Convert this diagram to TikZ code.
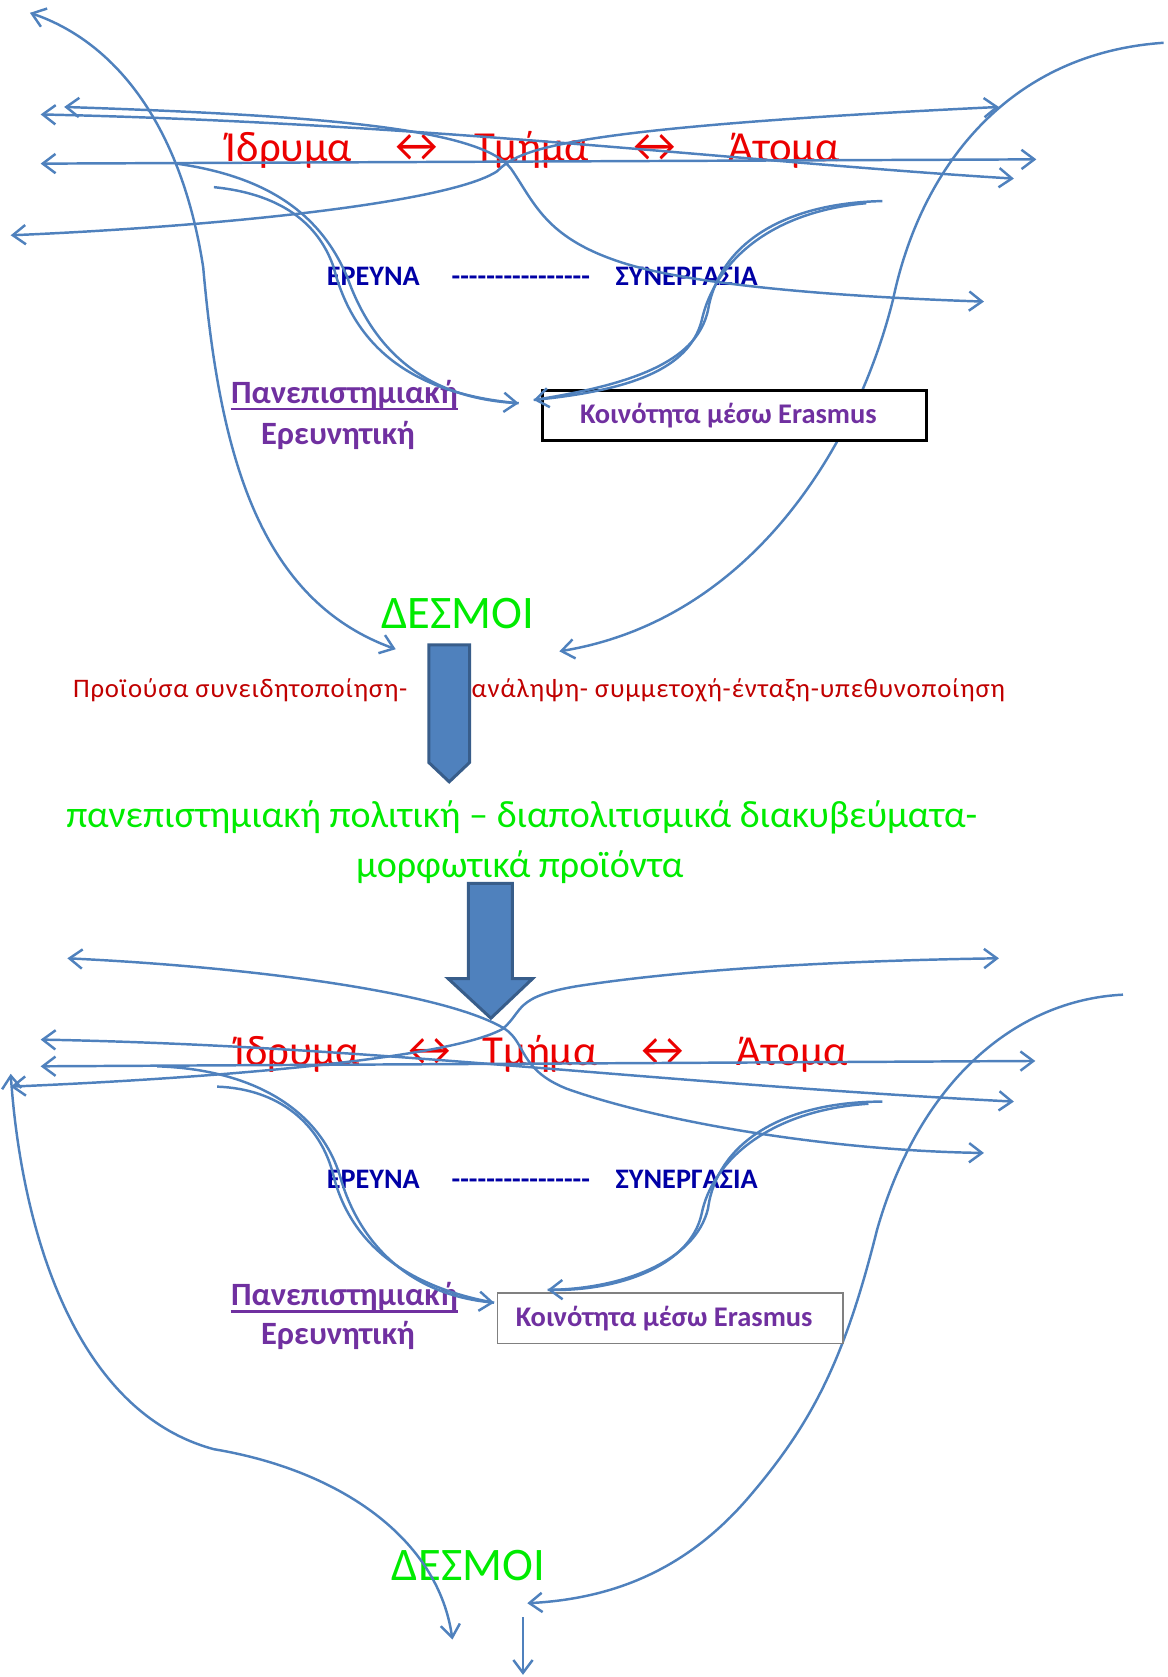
\documentclass[tikz,border=0pt]{standalone}
\usepackage{fontspec}
\setmainfont{Carlito}
\newfontfamily\widefont{Carlito}[LetterSpace=3.1]
\usepackage{xcolor}
\usetikzlibrary{arrows.meta}
\definecolor{linkblue}{RGB}{79,129,189}
\definecolor{linkdark}{RGB}{56,93,138}
\definecolor{levelred}{RGB}{235,0,0}
\definecolor{themeblue}{RGB}{0,0,165}
\definecolor{unipurple}{RGB}{112,48,160}
\definecolor{bondgreen}{RGB}{0,235,0}
\definecolor{procred}{RGB}{192,0,0}
\newcommand{\hy}{\mbox{-}}

\begin{document}
\begin{tikzpicture}[x=0.5pt,y=-0.5pt,
    >={Straight Barb[length=6pt,width=9pt]},
    flow/.style={draw=linkblue, line width=1.15pt},
    level/.style={text=levelred, font=\fontsize{20}{24}\selectfont, anchor=base},
    twoway/.style={text=levelred, font=\fontsize{22}{26}\selectfont, anchor=base},
    theme/.style={text=themeblue, font=\bfseries\fontsize{13.2}{16}\selectfont, anchor=base},
    uni/.style={text=unipurple, font=\bfseries\fontsize{15.2}{18}\selectfont, anchor=base, inner sep=0pt},
    uline/.style={draw=unipurple, line width=1.1pt},
    bond/.style={text=bondgreen, font=\fontsize{21.8}{26}\selectfont, anchor=base},
    proc/.style={text=procred, font=\widefont\fontsize{12.5}{15}\selectfont, anchor=base},
    policy/.style={text=bondgreen, font=\fontsize{17.8}{21}\selectfont, anchor=base},
    commbox/.style={draw, fill=white},
    commtext/.style={text=unipurple, font=\bfseries\fontsize{13.3}{16}\selectfont},
    block/.style={draw=linkdark, fill=linkblue, line width=1.4pt, line join=miter}]
  \useasboundingbox (0,0) rectangle (1092,1568);

  % upper level
  \node[level] (idr1) at (270,151) {Ίδρυμα};
  \node[twoway] (lr1a) at (390,151) {↔};
  \node[level] (tmi1) at (497,151) {Τμήμα};
  \node[twoway] (lr1b) at (612,151) {↔};
  \node[level] (ato1) at (733,151) {Άτομα};
  \node[theme] (ere1) at (349,267) {ΕΡΕΥΝΑ};
  \node[theme] (dash1) at (487,267) {\hy\hy\hy\hy\hy\hy\hy\hy\hy\hy\hy\hy\hy\hy\hy\hy};
  \node[theme] (syn1) at (642,267) {ΣΥΝΕΡΓΑΣΙΑ};
  \node[uni] (uni1) at (322,377) {Πανεπιστημιακή};
  \draw[uline] ([yshift=-2.6pt]uni1.base west) -- ([yshift=-2.6pt]uni1.base east);
  \node[uni] (res1) at (316,416) {Ερευνητική};
  \node[bond] (bond1) at (428,588) {ΔΕΣΜΟΙ};

  \coordinate (tl1) at (28,12);
  \coordinate (tr1) at (1088,40);
  \coordinate (bl1) at (370,607);
  \coordinate (br1) at (523,609);
  \coordinate (w1) at (60,100);
  \coordinate (w2) at (38,107);
  \coordinate (w3) at (38,153);
  \coordinate (w4) at (10,220);
  \coordinate (e1) at (934,100);
  \coordinate (e2) at (969,149);
  \coordinate (e3) at (948,167);
  \coordinate (e4) at (920,282);
  \coordinate (li1) at (165,153);
  \coordinate (li2) at (200,175);
  \coordinate (inL1) at (485,377);
  \coordinate (ri1) at (825,188);
  \coordinate (ri2) at (810,190);
  \coordinate (inR1) at (499,374);

  \draw[flow, <->] (tl1) .. controls (110,40) and (170,120) .. (190,250)
    .. controls (205,420) and (240,560) .. (bl1);
  \draw[flow, ->] (tr1) .. controls (940,50) and (860,160) .. (835,280)
    .. controls (800,420) and (700,580) .. (br1);
  \node[commbox, line width=1.3pt, minimum width=179.5pt, minimum height=23.5pt] (box1) at (686.5,388.5) {};
  \node[commtext] (eras1) at (681,389) {Κοινότητα μέσω Erasmus};
  \draw[flow, <->] (w1) .. controls (300,108) and (450,120) .. (478,158)
    .. controls (500,190) and (510,222) .. (580,245)
    .. controls (650,268) and (800,278) .. (e4);
  \draw[flow, <->] (w2) .. controls (400,115) and (700,152) .. (e3);
  \draw[flow, <->] (w3) -- (e2);
  \draw[flow, <->] (w4) .. controls (200,212) and (420,190) .. (465,160)
    .. controls (485,140) and (520,120) .. (e1);
  \draw[flow, ->] (li1) .. controls (250,165) and (300,200) .. (325,260)
    .. controls (350,330) and (400,372) .. (inL1);
  \draw[flow] (li2) .. controls (270,182) and (300,215) .. (312,250)
    .. controls (330,320) and (380,368) .. (inL1);
  \draw[flow, ->] (ri1) .. controls (730,190) and (672,230) .. (662,290)
    .. controls (652,335) and (600,358) .. (inR1);
  \draw[flow] (ri2) .. controls (720,198) and (668,245) .. (656,300)
    .. controls (644,345) and (590,365) .. (inR1);

  % transition
  \draw[block] (401,603) -- (439,603) -- (439,713) -- (420,731) -- (401,713) -- cycle;
  \node[proc, anchor=base east] (proc1a) at (388,652) {Προϊούσα συνειδητοποίηση-};
  \node[proc, anchor=base west] (proc1b) at (434,652) {ανάληψη- συμμετοχή-ένταξη-υπεθυνοποίηση};
  \node[policy] (pol1) at (488,774) {πανεπιστημιακή πολιτική – διαπολιτισμικά διακυβεύματα-};
  \node[policy] (pol2) at (486,820) {μορφωτικά προϊόντα};

  % lower level
  \node[level] (idr2) at (278,996) {Ίδρυμα};
  \node[twoway] (lr2a) at (402,996) {↔};
  \node[level] (tmi2) at (505,996) {Τμήμα};
  \node[twoway] (lr2b) at (620,996) {↔};
  \node[level] (ato2) at (741,996) {Άτομα};
  \node[theme] (ere2) at (349,1111) {ΕΡΕΥΝΑ};
  \node[theme] (dash2) at (487,1111) {\hy\hy\hy\hy\hy\hy\hy\hy\hy\hy\hy\hy\hy\hy\hy\hy};
  \node[theme] (syn2) at (642,1111) {ΣΥΝΕΡΓΑΣΙΑ};
  \node[uni] (uni2) at (322,1221) {Πανεπιστημιακή};
  \draw[uline] ([yshift=-2.6pt]uni2.base west) -- ([yshift=-2.6pt]uni2.base east);
  \node[uni] (res2) at (316,1257) {Ερευνητική};
  \node[bond] (bond2) at (438,1478) {ΔΕΣΜΟΙ};

  \coordinate (tl2) at (10,1004);
  \coordinate (tr2) at (1050,930);
  \coordinate (bl2) at (423,1533);
  \coordinate (br2) at (493,1499);
  \coordinate (v1) at (63,896);
  \coordinate (v2) at (38,972);
  \coordinate (v3) at (38,997);
  \coordinate (v4) at (10,1016);
  \coordinate (f1) at (934,896);
  \coordinate (f2) at (968,992);
  \coordinate (f3) at (948,1030);
  \coordinate (f4) at (920,1078);
  \coordinate (lj1) at (147,997);
  \coordinate (lj2) at (203,1016);
  \coordinate (inL2) at (462,1218);
  \coordinate (rj1) at (825,1030);
  \coordinate (rj2) at (812,1032);
  \coordinate (inR2) at (512,1206);
  \coordinate (out1) at (489,1512);
  \coordinate (out2) at (489,1566);

  \draw[flow, <->] (tl2) .. controls (20,1150) and (70,1320) .. (200,1355)
    .. controls (320,1375) and (410,1440) .. (bl2);
  \draw[flow, ->] (tr2) .. controls (950,935) and (860,1010) .. (820,1150)
    .. controls (790,1270) and (760,1330) .. (700,1400)
    .. controls (640,1470) and (570,1495) .. (br2);
  \node[commbox, draw=gray, line width=0.7pt, minimum width=161.5pt, minimum height=23.5pt] (box2) at (626.5,1232.5) {};
  \node[commtext] (eras2) at (621,1233) {Κοινότητα μέσω Erasmus};
  \draw[flow, <->] (v1) .. controls (250,905) and (420,930) .. (472,962)
    .. controls (492,975) and (485,1000) .. (530,1018)
    .. controls (620,1050) and (780,1076) .. (f4);
  \draw[flow, <->] (v4) .. controls (200,1008) and (420,990) .. (470,962)
    .. controls (490,945) and (480,932) .. (540,922)
    .. controls (650,905) and (800,898) .. (f1);
  \draw[flow, <->] (v2) .. controls (350,978) and (600,1012) .. (f3);
  \draw[flow, <->] (v3) -- (f2);
  \draw[flow, ->] (lj1) .. controls (240,1000) and (300,1040) .. (318,1100)
    .. controls (335,1160) and (380,1210) .. (inL2);
  \draw[flow] (lj2) .. controls (260,1018) and (300,1050) .. (312,1100)
    .. controls (330,1170) and (390,1205) .. (inL2);
  \draw[flow, ->] (rj1) .. controls (730,1030) and (670,1070) .. (662,1130)
    .. controls (650,1180) and (580,1205) .. (inR2);
  \draw[flow] (rj2) .. controls (720,1038) and (666,1085) .. (656,1135)
    .. controls (645,1185) and (575,1208) .. (inR2);
  \draw[flow, ->] (out1) -- (out2);

  \draw[block] (438,826) -- (479,826) -- (479,915) -- (498,915) -- (459,952) -- (419,915) -- (438,915) -- cycle;
\end{tikzpicture}
\end{document}
